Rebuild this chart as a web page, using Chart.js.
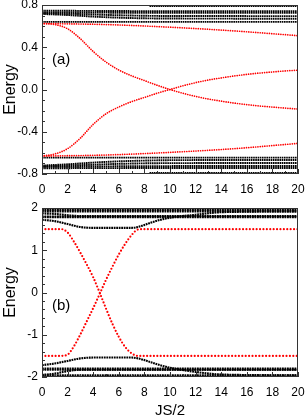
<!DOCTYPE html>
<html>
<head>
<meta charset="utf-8">
<script src="https://cdn.jsdelivr.net/npm/chart.js@4.4.0/dist/chart.umd.min.js"></script>
<style>
    html, body { margin: 0; padding: 0; background: #fff; }
    #wrap { position: relative; width: 305px; height: 418px; }
    canvas { position: absolute; left: 0; }
    #chartA { top: 0; }
    #chartB { top: 200px; }
</style>
</head>
<body>
<div id="wrap">
    <canvas id="chartA" width="305" height="200"></canvas>
    <canvas id="chartB" width="305" height="218"></canvas>
</div>
<script>
// ---- panel (a) : values ----
const aX = [0, 1, 2, 3, 4, 5, 6, 7, 8, 9, 10, 11, 12, 13, 14, 15, 16, 17, 18, 19, 20];
const aRedFall = [0.625, 0.615, 0.575, 0.48, 0.36, 0.26, 0.185, 0.13, 0.085, 0.04, 0.0,
    -0.035, -0.065, -0.09, -0.11, -0.128, -0.143, -0.156, -0.166, -0.176, -0.185];
const aRedRise = [-0.63, -0.61, -0.56, -0.46, -0.33, -0.23, -0.165, -0.115, -0.075, -0.035, 0.0,
    0.035, 0.065, 0.09, 0.11, 0.128, 0.143, 0.156, 0.166, 0.176, 0.183];
const aSlowX = [0, 5, 10, 15, 20];
const aRedTop = [0.625, 0.615, 0.59, 0.555, 0.51];
const aRedBottom = [-0.63, -0.62, -0.595, -0.56, -0.51];
const aBlackX = [0, 2, 4, 6, 8, 10, 20];
const aBlackUpper = [
    [0.64, 0.64, 0.64, 0.64, 0.64, 0.64, 0.64],
    [0.715, 0.705, 0.69, 0.68, 0.674, 0.672, 0.67],
    [0.722, 0.718, 0.71, 0.703, 0.698, 0.696, 0.695],
    [0.73, 0.73, 0.728, 0.727, 0.726, 0.726, 0.725],
    [0.745, 0.745, 0.744, 0.743, 0.742, 0.742, 0.742]
];
const aBlackLower = [
    [-0.645, -0.645, -0.645, -0.645, -0.645, -0.645, -0.645],
    [-0.72, -0.708, -0.692, -0.68, -0.673, -0.669, -0.667],
    [-0.727, -0.72, -0.712, -0.704, -0.699, -0.697, -0.696],
    [-0.733, -0.732, -0.729, -0.727, -0.726, -0.725, -0.724],
    [-0.746, -0.745, -0.744, -0.744, -0.743, -0.743, -0.743]
];
const aEdgeX = [8.4, 20];
const aEdgeTop = [0.79, 0.79];
const aEdgeBottom = [-0.79, -0.79];

// ---- panel (b) ----
const bRedX = [0, 1.5, 2, 2.5, 3, 3.5, 4, 4.5, 5, 5.5, 6, 6.5, 7, 7.5, 8, 20];
const bRedFall = [1.5, 1.5, 1.42, 1.2, 0.94, 0.66, 0.36, 0.0, -0.38, -0.74, -1.05, -1.29, -1.44, -1.5, -1.5, -1.5];
const bRedRise = [-1.5, -1.5, -1.47, -1.27, -0.99, -0.68, -0.37, -0.04, 0.3, 0.61, 0.9, 1.15, 1.36, 1.49, 1.5, 1.5];
const bCurveX = [0, 1, 2, 3, 4, 7, 7.5, 8, 9, 10, 12, 14, 20];
const bUpperCurve = [1.72, 1.69, 1.62, 1.55, 1.53, 1.53, 1.55, 1.6, 1.7, 1.77, 1.84, 1.9, 1.92];
const bLowerCurve = [-1.72, -1.68, -1.62, -1.56, -1.54, -1.54, -1.56, -1.6, -1.7, -1.78, -1.88, -1.94, -1.96];
const bFillX = [0, 1, 2, 3, 20];
const bUpperFill = [1.87, 1.86, 1.83, 1.81, 1.81];
const bLowerFill = [-1.95, -1.92, -1.86, -1.83, -1.83];
const bLevelX = [0, 20];
const bUpperLevels = [1.99, 1.95, 1.92, 1.8, 1.78];
const bLowerLevels = [-1.8, -1.83, -1.96, -1.99];

const FONT = '"Liberation Sans", Arial, sans-serif';

/**
 * Build {x, y} points from two arrays
 */
function series(xs, ys) {
    return xs.map((x, i) => ({ x: x, y: ys[i] }));
}

/**
 * Dotted curve dataset
 */
function dotted(xs, ys, color, width, dash, cap) {
    return {
        data: series(xs, ys),
        showLine: true,
        borderColor: color,
        borderWidth: width,
        borderDash: dash,
        borderCapStyle: cap,
        pointRadius: 0,
        pointHoverRadius: 0,
        cubicInterpolationMode: 'monotone'
    };
}

/**
 * Box, inward ticks and panel tag
 */
const panelFrame = {
    id: 'panelFrame',
    afterDraw(chart, args, opts) {
        const { ctx, chartArea: a, scales: { x, y } } = chart;
        ctx.save();
        ctx.strokeStyle = '#333';
        ctx.lineWidth = 1;
        ctx.strokeRect(a.left + 0.5, a.top + 0.5, a.width - 1, a.height - 1);
        ctx.beginPath();
        x.ticks.forEach(t => {
            const px = Math.round(x.getPixelForValue(t.value)) + 0.5;
            const len = t.label ? 5 : 3;
            ctx.moveTo(px, a.bottom);
            ctx.lineTo(px, a.bottom - len);
        });
        y.ticks.forEach(t => {
            const py = Math.round(y.getPixelForValue(t.value)) + 0.5;
            const len = t.label ? 5 : 3;
            ctx.moveTo(a.left, py);
            ctx.lineTo(a.left + len, py);
        });
        ctx.stroke();
        ctx.font = '15px ' + FONT;
        ctx.fillStyle = '#000';
        ctx.textAlign = 'center';
        ctx.textBaseline = 'middle';
        ctx.fillText(opts.tag, x.getPixelForValue(opts.tagX), y.getPixelForValue(opts.tagY));
        ctx.restore();
    }
};

const Panels = {
    charts: {},

    init() {
        this.charts.a = this.createPanel('chartA', this.datasetsA(), {
            padTop: 5, xHeight: 26, yMin: -0.8, yMax: 0.8, yStep: 0.1,
            yLabel: v => (Math.abs(Math.round(v * 10)) % 4 === 0 ? v.toFixed(1) : ''),
            tag: '(a)', tagY: 0.28, xTitle: ''
        });
        this.charts.b = this.createPanel('chartB', this.datasetsB(), {
            padTop: 8, xHeight: 41, yMin: -2, yMax: 2, yStep: 0.2,
            yLabel: v => (Math.abs(Math.round(v * 5)) % 5 === 0 ? String(Math.round(v)) : ''),
            tag: '(b)', tagY: -0.32, xTitle: 'JS/2'
        });
    },

    datasetsA() {
        const red = (xs, ys) => dotted(xs, ys, '#ff0000', 1.7, [0, 2.3], 'round');
        const black = (xs, ys) => dotted(xs, ys, '#000000', 1.9, [1.6, 0.6], 'butt');
        const list = [
            red(aX, aRedFall), red(aX, aRedRise),
            red(aSlowX, aRedTop), red(aSlowX, aRedBottom)
        ];
        aBlackUpper.concat(aBlackLower).forEach(ys => list.push(black(aBlackX, ys)));
        list.push(black(aEdgeX, aEdgeTop), black(aEdgeX, aEdgeBottom));
        return list;
    },

    datasetsB() {
        const red = (xs, ys) => dotted(xs, ys, '#ff0000', 2.2, [0, 3.4], 'round');
        const black = (xs, ys) => dotted(xs, ys, '#000000', 2.1, [1.8, 0.7], 'butt');
        const list = [red(bRedX, bRedFall), red(bRedX, bRedRise)];
        list.push(black(bCurveX, bUpperCurve), black(bCurveX, bLowerCurve));
        list.push(black(bFillX, bUpperFill), black(bFillX, bLowerFill));
        bUpperLevels.concat(bLowerLevels).forEach(v => list.push(black(bLevelX, [v, v])));
        return list;
    },

    createPanel(id, datasets, cfg) {
        const font = { family: FONT, size: 12 };
        return new Chart(document.getElementById(id), {
            type: 'scatter',
            data: { datasets: datasets },
            options: {
                responsive: false,
                animation: false,
                events: [],
                layout: { padding: { top: cfg.padTop, right: 7, bottom: 0, left: 0 } },
                plugins: {
                    legend: { display: false },
                    tooltip: { enabled: false },
                    panelFrame: { tag: cfg.tag, tagX: 1.5, tagY: cfg.tagY }
                },
                scales: {
                    x: {
                        type: 'linear',
                        min: 0,
                        max: 20,
                        grid: { display: false, drawTicks: false },
                        border: { display: false },
                        ticks: {
                            stepSize: 1,
                            autoSkip: false,
                            maxRotation: 0,
                            padding: 8,
                            color: '#000',
                            font: font,
                            callback: v => (v % 2 === 0 ? String(v) : '')
                        },
                        title: {
                            display: !!cfg.xTitle,
                            text: cfg.xTitle,
                            color: '#000',
                            font: { family: FONT, size: 15, lineHeight: 1 },
                            padding: 0
                        },
                        afterFit: s => {
                            s.height = cfg.xHeight;
                            s.paddingLeft = 0;
                            s.paddingRight = 0;
                        }
                    },
                    y: {
                        type: 'linear',
                        min: cfg.yMin,
                        max: cfg.yMax,
                        grid: { display: false, drawTicks: false },
                        border: { display: false },
                        ticks: {
                            stepSize: cfg.yStep,
                            autoSkip: false,
                            padding: 4,
                            color: '#000',
                            font: font,
                            callback: cfg.yLabel
                        },
                        title: {
                            display: true,
                            text: 'Energy',
                            color: '#000',
                            font: { family: FONT, size: 16, lineHeight: 1 },
                            padding: { top: 3, bottom: 0 }
                        },
                        afterFit: s => {
                            s.width = 42;
                            s.paddingTop = 0;
                            s.paddingBottom = 0;
                        }
                    }
                }
            },
            plugins: [panelFrame]
        });
    }
};

Panels.init();
</script>
</body>
</html>
